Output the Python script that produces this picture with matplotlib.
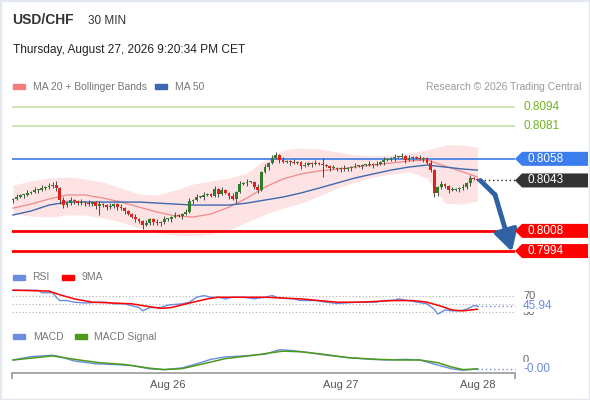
import matplotlib
matplotlib.use('Agg')
import matplotlib.pyplot as plt
from matplotlib.patches import Rectangle, Polygon
from matplotlib.transforms import blended_transform_factory

plt.rcParams['font.family'] = ['Liberation Sans', 'DejaVu Sans']

W, H = 590, 400

# ---- data ----
first_open = 0.80294
closes = [
    0.80301, 0.80315, 0.80329, 0.80329, 0.80343, 0.80350, 0.80364, 0.80364, 0.80377, 0.80384,
    0.80391, 0.80398, 0.80377, 0.80294, 0.80259, 0.80273, 0.80294, 0.80287, 0.80273, 0.80280,
    0.80273, 0.80266, 0.80280, 0.80252, 0.80266, 0.80259, 0.80245, 0.80252, 0.80266, 0.80245,
    0.80238, 0.80218, 0.80197, 0.80176, 0.80162, 0.80148, 0.80121, 0.80134, 0.80162, 0.80141,
    0.80134, 0.80141, 0.80162, 0.80162, 0.80176, 0.80190, 0.80183, 0.80197, 0.80211, 0.80287,
    0.80294, 0.80315, 0.80315, 0.80329, 0.80336, 0.80322, 0.80370, 0.80336, 0.80364, 0.80343,
    0.80322, 0.80301, 0.80350, 0.80405, 0.80412, 0.80419, 0.80419, 0.80384, 0.80364, 0.80489,
    0.80523, 0.80551, 0.80586, 0.80607, 0.80572, 0.80558, 0.80565, 0.80558, 0.80551, 0.80558,
    0.80530, 0.80537, 0.80551, 0.80544, 0.80551, 0.80544, 0.80537, 0.80530, 0.80516, 0.80516,
    0.80509, 0.80516, 0.80509, 0.80516, 0.80523, 0.80530, 0.80530, 0.80537, 0.80537, 0.80544,
    0.80537, 0.80544, 0.80558, 0.80572, 0.80572, 0.80586, 0.80593, 0.80593, 0.80600, 0.80572,
    0.80586, 0.80593, 0.80586, 0.80579, 0.80586, 0.80551, 0.80502, 0.80343, 0.80384, 0.80405,
    0.80391, 0.80364, 0.80364, 0.80370, 0.80377, 0.80384, 0.80412, 0.80447, 0.80440, 0.80433,
]
# wick lengths in pips beyond the body
wick_up = [
    1, 2, 1, 1, 2, 1, 2, 1, 2, 1,
    2, 2, 3, 1, 2, 1, 2, 1, 1, 2,
    1, 2, 1, 1, 2, 1, 1, 2, 1, 1,
    2, 1, 1, 1, 2, 1, 1, 2, 1, 1,
    2, 1, 2, 1, 1, 2, 1, 1, 2, 2,
    1, 2, 1, 2, 1, 1, 2, 1, 2, 1,
    1, 2, 1, 2, 1, 2, 1, 1, 2, 1,
    2, 1, 2, 2, 1, 2, 1, 1, 2, 1,
    1, 2, 1, 1, 2, 1, 4, 1, 1, 2,
    1, 1, 2, 1, 1, 2, 1, 1, 1, 2,
    1, 2, 1, 2, 1, 1, 2, 1, 2, 1,
    2, 1, 1, 2, 1, 1, 2, 1, 1, 2,
    1, 1, 2, 1, 1, 2, 1, 2, 1, 1,
]
wick_dn = [
    2, 1, 1, 2, 1, 1, 1, 2, 1, 1,
    1, 1, 2, 3, 2, 1, 1, 2, 1, 1,
    2, 1, 1, 2, 6, 1, 2, 1, 1, 2,
    1, 2, 1, 1, 2, 1, 3, 1, 1, 2,
    1, 2, 1, 1, 2, 1, 1, 2, 1, 1,
    2, 1, 1, 2, 1, 1, 1, 2, 1, 1,
    2, 1, 3, 1, 1, 2, 1, 1, 2, 1,
    1, 2, 1, 1, 2, 1, 1, 2, 1, 1,
    2, 1, 1, 2, 1, 1, 8, 1, 2, 1,
    1, 2, 1, 1, 2, 1, 1, 2, 1, 1,
    2, 1, 1, 2, 1, 1, 2, 1, 1, 2,
    1, 2, 1, 1, 2, 1, 1, 3, 2, 1,
    1, 2, 1, 1, 2, 1, 1, 2, 1, 1,
]

band_idx = [0, 5, 10, 15, 20, 25, 30, 35, 40, 45, 50, 55, 60, 65, 70, 75,
            80, 85, 90, 95, 100, 105, 110, 115, 120, 125, 129]
ma20 = [0.80238, 0.80266, 0.80301, 0.80329, 0.80329, 0.80308, 0.80280, 0.80245, 0.80211,
        0.80183, 0.80176, 0.80197, 0.80245, 0.80308, 0.80384, 0.80440, 0.80475, 0.80496,
        0.80509, 0.80523, 0.80537, 0.80551, 0.80565, 0.80572, 0.80530, 0.80489, 0.80454]
bb_up = [0.80398, 0.80426, 0.80447, 0.80454, 0.80440, 0.80419, 0.80377, 0.80336, 0.80329,
         0.80364, 0.80405, 0.80426, 0.80447, 0.80482, 0.80572, 0.80641, 0.80655, 0.80648,
         0.80628, 0.80607, 0.80600, 0.80607, 0.80621, 0.80641, 0.80676, 0.80676, 0.80662]
bb_lo = [0.80197, 0.80183, 0.80176, 0.80190, 0.80190, 0.80169, 0.80141, 0.80100, 0.80065,
         0.80051, 0.80044, 0.80058, 0.80086, 0.80141, 0.80197, 0.80238, 0.80273, 0.80322,
         0.80377, 0.80419, 0.80454, 0.80475, 0.80489, 0.80447, 0.80273, 0.80266, 0.80287]
ma50 = [0.80190, 0.80218, 0.80259, 0.80280, 0.80280, 0.80280, 0.80280, 0.80280, 0.80273,
        0.80266, 0.80259, 0.80259, 0.80259, 0.80273, 0.80294, 0.80315, 0.80343, 0.80377,
        0.80412, 0.80447, 0.80475, 0.80502, 0.80523, 0.80537, 0.80523, 0.80509, 0.80502]

resistances = [0.8094, 0.8081]
pivot = 0.8058
last_price = 0.8043
supports = [0.8008, 0.7994]

rsi_idx = [0, 7, 8, 11, 12, 13, 15, 17, 20, 24, 26, 28, 31, 33, 35, 36, 38, 41, 43, 47,
           49, 51, 53, 55, 57, 59, 61, 64, 67, 70, 72, 74, 78, 80, 84, 87, 90, 96, 101, 103,
           106, 107, 109, 111, 115, 117, 118, 120, 122, 124, 126, 128, 129]
rsi = [84, 84, 78, 78, 67, 59, 59, 55, 53, 55, 55, 51, 51, 46.5, 42, 34, 42, 42, 48, 51,
       55, 67, 71, 67, 67, 63, 67, 67, 63, 67, 71, 65, 63, 59, 59, 55, 52, 55, 55, 59,
       60, 63, 60, 57, 51, 38, 26, 36, 34, 34, 38, 46.5, 45.94]
rsi_ma_idx = [0, 10, 13, 17, 22, 28, 33, 38, 41, 44, 49, 54, 57, 64, 70, 75, 80, 90, 96,
              101, 106, 111, 115, 119, 122, 125, 129]
rsi_ma = [84, 82, 73, 63, 55, 53, 51, 44, 40, 42, 53, 63, 67, 67, 67, 65, 63, 55, 55,
          57, 59, 59, 55, 45, 36, 34, 38]
rsi_levels = [70, 50, 30]

# MACD in pips (1e-4)
macd_idx = [0, 5, 11, 13, 17, 23, 28, 33, 38, 42, 47, 51, 55, 59, 64, 70, 74, 78, 82, 87,
            93, 99, 104, 109, 113, 118, 122, 125, 127, 129]
macd = [0.0, 0.34, 0.48, 0.34, -0.10, -0.38, -0.45, -0.55, -0.89, -0.96, -0.79, -0.38, 0.07,
        0.31, 0.41, 0.58, 1.03, 0.93, 0.75, 0.48, 0.24, 0.07, 0.0, 0.07, 0.0, -0.51, -0.89,
        -1.03, -0.96, -0.89]
signal_idx = [0, 11, 17, 24, 31, 38, 42, 47, 52, 59, 67, 75, 80, 86, 93, 101, 107, 113,
              118, 122, 125, 129]
signal = [0.0, 0.41, 0.07, -0.27, -0.45, -0.82, -0.96, -0.86, -0.45, 0.14, 0.48, 0.89, 0.82,
          0.58, 0.24, 0.07, 0.0, 0.0, -0.27, -0.72, -0.96, -0.89]

date_labels = ['Aug 26', 'Aug 27', 'Aug 28']
date_pos = [43, 91, 129]

# ---- colours ----
GREEN_C = '#2f7d2a'
RED_C = '#e0201c'
BAND = '#fde3e3'
MA20_C = '#f08a8a'
MA50_C = '#3d68b0'
IND_BLUE = '#6a8de0'
SIG_GREEN = '#4c9a1a'
ARROW_C = '#2f62a3'


def fx(x):
    return x / W


def fy(y):
    return 1 - y / H


fig = plt.figure(figsize=(W / 100, H / 100), dpi=100)
fig.patch.set_facecolor('white')

XL, XR = -0.28, 139.44
AX_L, AX_R = 12, 515
AW = AX_R - AX_L
Y_TOP, Y_BOT = 0.81023, 0.79864


def axfrac(px):
    return (px - AX_L) / AW


# ---------- main price panel ----------
ax = fig.add_axes([fx(AX_L), fy(262), AW / W, (262 - 95) / H])
ax.set_xlim(XL, XR)
ax.set_ylim(Y_BOT, Y_TOP)
ax.axis('off')

ax.fill_between(band_idx, bb_lo, bb_up, color=BAND, lw=0, zorder=1)
ax.plot(band_idx, ma20, color=MA20_C, lw=0.9, zorder=2)
ax.plot(band_idx, ma50, color=MA50_C, lw=1.0, zorder=2)

for r in resistances:
    ax.axhline(r, color='#c6e2a6', lw=1.2, zorder=1)
ax.axhline(pivot, color='#4a86e8', lw=1.3, zorder=1)
for s in supports:
    ax.axhline(s, color='#ff0000', lw=2.0, zorder=1)

pip = 0.0001
prev = first_open
for i, c in enumerate(closes):
    o = prev
    top, bot = max(o, c), min(o, c)
    col = GREEN_C if c >= o else RED_C
    ax.vlines(i, bot - wick_dn[i] * pip, top + wick_up[i] * pip,
              color='#4a4a4a', lw=0.7, zorder=3)
    ax.bar(i, max(top - bot, 0.00006), bottom=bot, width=0.8, color=col,
           edgecolor='none', zorder=4)
    prev = c

n = len(closes)
ax.plot([n - 0.2, XR], [last_price, last_price], color='#222222', lw=1,
        linestyle=(0, (1, 2)), zorder=2, clip_on=False)

# forecast arrow
start = (n - 0.2, last_price)
bend = (n + 3.9, last_price - 0.0010)
tip = (n + 8.6, supports[1] - 0.00005)
ax.plot([start[0], bend[0]], [start[1], bend[1]], color=ARROW_C, lw=3.5,
        solid_capstyle='round', zorder=6, clip_on=False)
ax.annotate('', xy=tip, xytext=bend, annotation_clip=False, zorder=6,
            arrowprops=dict(arrowstyle='-|>,head_width=0.5,head_length=0.9',
                            color=ARROW_C, lw=3.5, shrinkA=0, shrinkB=0,
                            mutation_scale=14))

trans = blended_transform_factory(ax.transAxes, ax.transData)
half = (Y_TOP - Y_BOT) / 167 * 7


def tag(a, tr, val, h, face, txt, fs=8.5):
    pts = [(axfrac(515), val), (axfrac(522), val + h), (axfrac(588), val + h),
           (axfrac(588), val - h), (axfrac(522), val - h)]
    a.add_patch(Polygon(pts, closed=True, transform=tr, facecolor=face,
                        edgecolor='none', clip_on=False, zorder=7))
    a.text(axfrac(527), val, txt, transform=tr, color='white', fontsize=fs,
           va='center', ha='left', clip_on=False, zorder=8)


for r in resistances:
    ax.text(axfrac(524), r, f'{r:.4f}', transform=trans, color='#6fb423',
            fontsize=8.5, va='center', ha='left', clip_on=False)
tag(ax, trans, pivot, half, '#3b7ded', f'{pivot:.4f}')
tag(ax, trans, last_price, half, '#333333', f'{last_price:.4f}')
for s in supports:
    tag(ax, trans, s, half, '#ff0000', f'{s:.4f}')

# ---------- RSI panel ----------
axr = fig.add_axes([fx(AX_L), fy(320), AW / W, 36 / H])
axr.set_xlim(XL, XR)
axr.set_ylim(11.8, 99.1)
axr.axis('off')
for lv in rsi_levels:
    axr.axhline(lv, color='#b0b0b0', lw=0.8, linestyle=(0, (1, 2)))
axr.plot(rsi_idx, rsi, color=IND_BLUE, lw=1.0, zorder=3)
axr.plot(rsi_ma_idx, rsi_ma, color='#ff0000', lw=1.1, zorder=4)
axr.plot([rsi_idx[-1], XR], [rsi[-1], rsi[-1]], color=IND_BLUE, lw=1,
         linestyle=(0, (1, 2)), clip_on=False)
trr = blended_transform_factory(axr.transAxes, axr.transData)
axr.text(axfrac(523), 70, '70', transform=trr, color='#666666', fontsize=8,
         va='center', clip_on=False)
axr.text(axfrac(523), 30, '30', transform=trr, color='#666666', fontsize=8,
         va='center', clip_on=False, zorder=2)
axr.text(axfrac(523), rsi[-1], f'{rsi[-1]:.2f}', transform=trr, color=IND_BLUE,
         fontsize=8.5, va='center', clip_on=False, zorder=5,
         bbox=dict(facecolor='white', edgecolor='none', pad=0.3))

# ---------- MACD panel ----------
axm = fig.add_axes([fx(AX_L), fy(373), AW / W, 28 / H])
axm.set_xlim(XL, XR)
axm.set_ylim(-1.3, 1.5)
for side in ['top', 'left', 'right']:
    axm.spines[side].set_visible(False)
axm.spines['bottom'].set_color('#999999')
axm.spines['bottom'].set_linewidth(1.2)
axm.set_yticks([])
axm.set_xticks([XL, XR])
axm.set_xticklabels(['', ''])
axm.tick_params(axis='x', length=4, width=1.2, color='#999999')
axm.set_facecolor('none')
axm.plot(macd_idx, macd, color=IND_BLUE, lw=1.0, zorder=3)
axm.plot(signal_idx, signal, color=SIG_GREEN, lw=1.1, zorder=4)
axm.plot([macd_idx[-1], XR], [macd[-1], macd[-1]], color=IND_BLUE, lw=1,
         linestyle=(0, (1, 2)), clip_on=False)
trm = blended_transform_factory(axm.transAxes, axm.transData)
axm.text(axfrac(523), 0, '0', transform=trm, color='#666666', fontsize=8,
         va='center', clip_on=False, zorder=2)
axm.text(axfrac(523), macd[-1], f'{macd[-1] * 1e-4:.2f}', transform=trm,
         color=IND_BLUE, fontsize=8.5, va='center', clip_on=False, zorder=5,
         bbox=dict(facecolor='white', edgecolor='none', pad=0.3))

trd = blended_transform_factory(axm.transData, fig.transFigure)
for p, lab in zip(date_pos, date_labels):
    axm.text(p, fy(388), lab, transform=trd, ha='center', va='baseline',
             color='#555555', fontsize=8)

# ---------- header and legends ----------
fig.text(fx(12), fy(24), 'USD/CHF', fontsize=10, fontweight='bold', color='#333333',
         va='baseline')
fig.text(fx(88), fy(24), '30 MIN', fontsize=8.5, color='#333333', va='baseline')
fig.text(fx(13), fy(52.5), 'Thursday, August 27, 2026 9:20:34 PM CET', fontsize=8.6,
         color='#222222', va='baseline')


def legend_item(x, y, col, label, tx):
    fig.patches.append(Rectangle((fx(x), fy(y + 2.5)), 12 / W, 5 / H, color=col,
                                 transform=fig.transFigure))
    fig.text(fx(tx), fy(y + 3.5), label, fontsize=7.5, color='#777777', va='baseline')


legend_item(13, 86.5, '#f47c7c', 'MA 20 + Bollinger Bands', 33)
legend_item(155, 86.5, MA50_C, 'MA 50', 175)
fig.text(fx(581), fy(90), 'Research \u00a9 2026 Trading Central', fontsize=7.5,
         color='#9a9a9a', ha='right', va='baseline')
legend_item(13, 277, IND_BLUE, 'RSI', 32)
legend_item(62, 277, '#ff0000', '9MA', 81)
legend_item(13, 336.5, IND_BLUE, 'MACD', 33)
legend_item(75, 336.5, SIG_GREEN, 'MACD Signal', 94)

fig.patches.append(Rectangle((0, 0), 1, 1, transform=fig.transFigure, fill=False,
                             edgecolor='#e4e9ef', lw=2.5))

fig.savefig('out.png', dpi=100)
